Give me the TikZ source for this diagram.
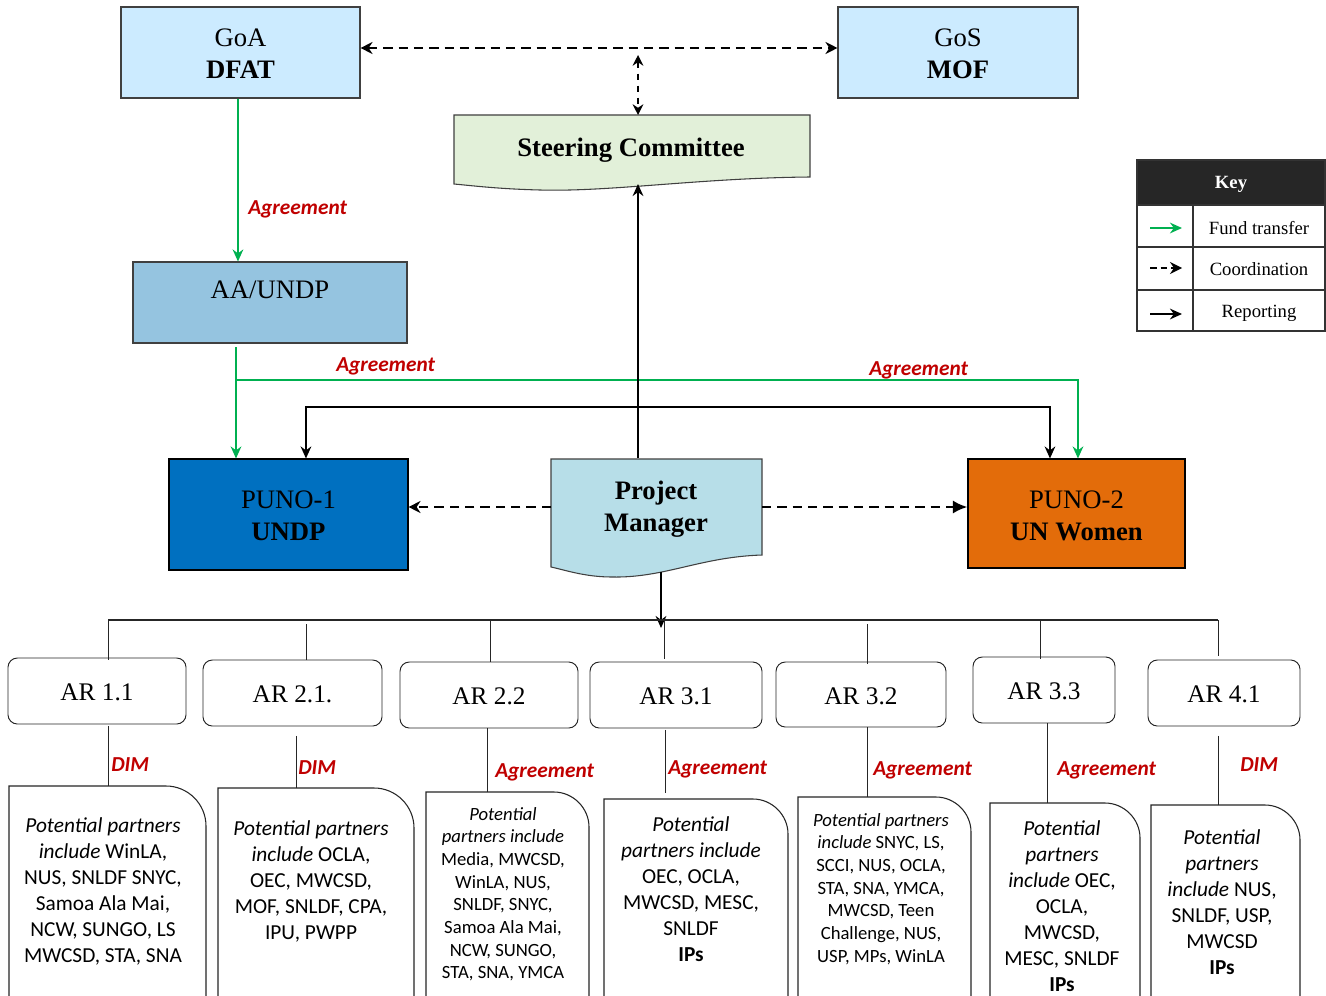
\documentclass[tikz,border=0pt]{standalone}
\usepackage{fontspec}
\setmainfont{Liberation Serif}
\newfontfamily\calfont{Carlito}
\usetikzlibrary{arrows.meta}
\definecolor{lblue}{HTML}{CCEBFF}
\definecolor{aablue}{HTML}{95C4E0}
\definecolor{undpblue}{HTML}{0070C0}
\definecolor{unworange}{HTML}{E36C0A}
\definecolor{pmblue}{HTML}{B7DEE8}
\definecolor{scgreen}{HTML}{E2F0D9}
\definecolor{fundgreen}{HTML}{00B050}
\definecolor{lblred}{HTML}{C00000}
\definecolor{keydark}{HTML}{262626}
\begin{document}
\begin{tikzpicture}[x=0.75pt,y=-0.75pt,
  box/.style={draw=black!75, line width=0.8pt, inner sep=0pt, align=center, font=\fontsize{20}{24}\selectfont},
  arbox/.style={draw=black!85, line width=0.7pt, rounded corners=7pt, inner sep=0pt, align=center, font=\fontsize{19}{22}\selectfont},
  txt/.style={inner sep=0pt, align=center, font=\fontsize{20}{24}\selectfont},
  lbl/.style={inner sep=0pt, anchor=west, text=lblred, font=\calfont\bfseries\itshape\fontsize{16}{19}\selectfont},
  partner/.style={inner sep=0pt, anchor=north, align=center, font=\calfont\fontsize{16}{19.5}\selectfont},
  partnersm/.style={inner sep=0pt, anchor=north, align=center, font=\calfont\fontsize{14}{17}\selectfont},
  pbox/.style={draw=black!85, line width=0.8pt},
  fund/.style={draw=fundgreen, line width=1.6pt, -{Stealth[length=9pt,width=8pt]}},
  coordline/.style={draw=black, line width=2pt, dash pattern=on 7pt off 4.5pt, -{Stealth[length=9pt,width=9pt]}},
  rep/.style={draw=black, line width=1.6pt, -{Stealth[length=9pt,width=8pt]}},
  thinline/.style={draw=black!85, line width=0.7pt},
  keytxt/.style={inner sep=0pt, font=\fontsize{14}{16}\selectfont}
]
\clip (0,0) rectangle (1326,995);
\fill[white] (0,0) rectangle (1326,995);

% ---- top boxes
\node[box, fill=lblue, minimum width=179.25pt, minimum height=68.25pt] (goa) at (240.5,52.5) {};
\node[txt] (goatxt) at (240.5,54) {GoA\\\textbf{DFAT}};
\node[box, fill=lblue, minimum width=180pt, minimum height=68.25pt] (gos) at (958,52.5) {};
\node[txt] (gostxt) at (958,54) {GoS\\\textbf{MOF}};

% steering committee (document shape)
\path[draw=black!75, line width=0.8pt, fill=scgreen] (454,115) -- (810,115) -- (810,177)
  .. controls (700,178) and (610,192) .. (540,190) .. controls (500,189) and (475,186) .. (454,184) -- cycle;
\node[txt, font=\bfseries\fontsize{20}{24}\selectfont] (sc) at (631,150) {Steering Committee};

% AA/UNDP
\node[box, fill=aablue, minimum width=205.5pt, minimum height=60.75pt] (aa) at (270,302.5) {};
\node[txt] (aatxt) at (270,290) {AA/UNDP};

% PUNOs
\node[box, draw=black, fill=undpblue, minimum width=179.25pt, minimum height=83.25pt] (puno1) at (288.5,514.5) {};
\node[txt] (p1txt) at (288.5,516) {PUNO-1\\\textbf{UNDP}};
\node[box, draw=black, fill=unworange, minimum width=162.75pt, minimum height=81.75pt] (puno2) at (1076.5,513.5) {};
\node[txt] (p2txt) at (1076.5,515.5) {PUNO-2\\\textbf{UN Women}};

% Project manager (document shape)
\path[draw=black!75, line width=0.8pt, fill=pmblue] (551,459) -- (762,459) -- (762,555)
  .. controls (700,557) and (665,578) .. (612,577) .. controls (585,577) and (565,570) .. (551,567) -- cycle;
\node[txt, font=\bfseries\fontsize{20}{24}\selectfont] (pm) at (656,509.5) {Project\\Manager};

% coordinates
\coordinate (toprow) at (638,48);
\coordinate (midtop) at (638,55);
\coordinate (scTop) at (638,115);
\coordinate (scBot) at (638,184);
\coordinate (pmTop) at (638,458);
\coordinate (pj) at (638,407);
\coordinate (gj) at (236,380);
\coordinate (aaOut) at (236,347);
\coordinate (pmL) at (551,507);
\coordinate (pmR) at (762,507);
\coordinate (pmBot) at (661,572);
\coordinate (busArrow) at (661,628);

% coordination arrows
\draw[coordline, {Stealth[length=9pt,width=9pt]}-{Stealth[length=9pt,width=9pt]}] (goa.east |- toprow) -- (gos.west |- toprow);
\draw[coordline, dash pattern=on 5pt off 4pt, {Stealth[length=8pt,width=8pt]}-{Stealth[length=8pt,width=8pt]}] (midtop) -- (scTop);
\draw[coordline] (pmL) -- (puno1.east |- pmL);
\draw[coordline, -{Latex[length=11pt,width=10pt]}] (pmR) -- (puno2.west |- pmR);

% fund transfer
\draw[fund] ([xshift=-1.9pt]goa.south) -- ([xshift=-1.9pt]goa.south |- aa.north);
\draw[fund] (aaOut) -- (aaOut |- puno1.north);
\draw[fund] (gj) -| ([xshift=1.1pt]puno2.north);

% reporting
\draw[rep] (pmTop) -- (scBot);
\draw[rep] (pj) -| ([xshift=13.1pt]puno1.north);
\draw[rep] (pj) -| ([xshift=-19.9pt]puno2.north);
\draw[rep] (pmBot) -- (busArrow);

% labels
\node[lbl] (l1) at (248,209) {Agreement};
\node[lbl] (l2) at (336,366) {Agreement};
\node[lbl] (l3) at (869,370) {Agreement};

% AR boxes
\node[arbox, minimum width=133.5pt, minimum height=49.5pt] (ar11) at (97,691) {};
\node[arbox, minimum width=134.25pt, minimum height=49.5pt] (ar21) at (292.5,693) {};
\node[arbox, minimum width=133.5pt, minimum height=49.5pt] (ar22) at (489,695) {};
\node[arbox, minimum width=129pt, minimum height=49.5pt] (ar31) at (676,695) {};
\node[arbox, minimum width=127.5pt, minimum height=48.75pt] (ar32) at (861,694.5) {};
\node[arbox, minimum width=106.5pt, minimum height=49.5pt] (ar33) at (1044,690) {};
\node[arbox, minimum width=114pt, minimum height=49.5pt] (ar41) at (1224,693) {};
\node[txt, font=\fontsize{19}{22}\selectfont] (ar11t) at (97,692.5) {AR 1.1};
\node[txt, font=\fontsize{19}{22}\selectfont] (ar21t) at (292.5,694.5) {AR 2.1.};
\node[txt, font=\fontsize{19}{22}\selectfont] (ar22t) at (489,696.5) {AR 2.2};
\node[txt, font=\fontsize{19}{22}\selectfont] (ar31t) at (676,696.5) {AR 3.1};
\node[txt, font=\fontsize{19}{22}\selectfont] (ar32t) at (861,696) {AR 3.2};
\node[txt, font=\fontsize{19}{22}\selectfont] (ar33t) at (1044,691.5) {AR 3.3};
\node[txt, font=\fontsize{19}{22}\selectfont] (ar41t) at (1224,694.5) {AR 4.1};

% bus
\coordinate (b1) at (108,620);
\coordinate (b2) at (306,620);
\coordinate (b3) at (490,620);
\coordinate (b4) at (664,620);
\coordinate (b5) at (867,620);
\coordinate (b6) at (1040,620);
\coordinate (b7) at (1218,620);
\draw[thinline, line width=1.1pt] (b1) -- (b7);
\draw[thinline] (b1) -- ([yshift=-2pt]b1 |- ar11.north);
\draw[thinline] ([yshift=-3pt]b2) -- (b2 |- ar21.north);
\draw[thinline] (b3) -- (b3 |- ar22.north);
\draw[thinline] (b4) -- ([yshift=2pt]b4 |- ar31.north);
\draw[thinline] ([yshift=-3pt]b5) -- ([yshift=-2pt]b5 |- ar32.north);
\draw[thinline] (b6) -- ([yshift=-2pt]b6 |- ar33.north);
\draw[thinline] (b7) -- ([yshift=3pt]b7 |- ar41.north);

% partner boxes
\path[pbox] (9,1000) -- (9,786) -- (166,786) .. controls (188,786) and (206,804) .. (206,826) -- (206,1000);
\coordinate (p1) at (108,786);
\path[pbox] (218,1000) -- (218,788) -- (374,788) .. controls (396,788) and (414,806) .. (414,828) -- (414,1000);
\coordinate (p2) at (296,788);
\path[pbox] (426,1000) -- (426,792) -- (554,792) .. controls (573,792) and (589,808) .. (589,827) -- (589,1000);
\coordinate (p3) at (487,792);
\path[pbox] (604,1000) -- (604,799) -- (753,799) .. controls (772,799) and (788,815) .. (788,834) -- (788,1000);
\coordinate (p4) at (665,793);
\path[pbox] (798,1000) -- (798,797) -- (936,797) .. controls (955,797) and (971,813) .. (971,832) -- (971,1000);
\coordinate (p5) at (867,797);
\path[pbox] (990,1000) -- (990,803) -- (1105,803) .. controls (1124,803) and (1140,819) .. (1140,838) -- (1140,1000);
\coordinate (p6) at (1047,803);
\path[pbox] (1151,1000) -- (1151,805) -- (1265,805) .. controls (1284,805) and (1300,821) .. (1300,840) -- (1300,1000);
\coordinate (p7) at (1218,805);

\draw[thinline] ([yshift=-1pt]ar11.south -| p1) -- (p1);
\draw[thinline] ([yshift=-7pt]ar21.south -| p2) -- (p2);
\draw[thinline] (ar22.south -| p3) -- (p3);
\draw[thinline] ([yshift=-1pt]ar31.south -| p4) -- (p4);
\draw[thinline] (ar32.south -| p5) -- (p5);
\draw[thinline] (ar33.south -| p6) -- (p6);
\draw[thinline] ([yshift=-7pt]ar41.south -| p7) -- (p7);

% lower labels
\node[lbl] (d1) at (111,765) {DIM};
\node[lbl] (d2) at (298,768) {DIM};
\node[lbl] (d3) at (495,772.5) {Agreement};
\node[lbl] (d4) at (668,769.5) {Agreement};
\node[lbl] (d5) at (873,770.5) {Agreement};
\node[lbl] (d6) at (1057,770.5) {Agreement};
\node[lbl] (d7) at (1240,765) {DIM};

% partner texts
\node[partner] (t1) at (103,817) {\textit{Potential partners}\\\textit{include} WinLA,\\NUS, SNLDF SNYC,\\Samoa Ala Mai,\\NCW, SUNGO, LS\\MWCSD, STA, SNA};
\node[partner] (t2) at (311,820) {\textit{Potential partners}\\\textit{include} OCLA,\\OEC, MWCSD,\\MOF, SNLDF, CPA,\\IPU, PWPP};
\node[partnersm] (t3) at (503,807) {\textit{Potential}\\\textit{partners include}\\Media, MWCSD,\\WinLA, NUS,\\SNLDF, SNYC,\\Samoa Ala Mai,\\NCW, SUNGO,\\STA, SNA, YMCA};
\node[partner] (t4) at (691,816) {\textit{Potential}\\\textit{partners include}\\OEC, OCLA,\\MWCSD, MESC,\\SNLDF\\\textbf{IPs}};
\node[partnersm] (t5) at (881,813) {\textit{Potential partners}\\\textit{include} SNYC, LS,\\SCCI, NUS, OCLA,\\STA, SNA, YMCA,\\MWCSD, Teen\\Challenge, NUS,\\USP, MPs, WinLA};
\node[partner] (t6) at (1062,820) {\textit{Potential}\\\textit{partners}\\\textit{include} OEC,\\OCLA,\\MWCSD,\\MESC, SNLDF\\\textbf{IPs}};
\node[partner] (t7) at (1222,829) {\textit{Potential}\\\textit{partners}\\\textit{include} NUS,\\SNLDF, USP,\\MWCSD\\\textbf{IPs}};

% key
\fill[keydark] (1137,160) rectangle (1325,205);
\draw[black!80, line width=0.8pt] (1137,160) rectangle (1325,331);
\draw[black!80, line width=0.8pt] (1137,205) -- (1325,205);
\draw[black!80, line width=0.8pt] (1137,247) -- (1325,247);
\draw[black!80, line width=0.8pt] (1137,290) -- (1325,290);
\draw[black!80, line width=0.8pt] (1193,205) -- (1193,331);
\node[keytxt, text=white, font=\bfseries\fontsize{14}{16}\selectfont] (key) at (1231,184.5) {Key};
\node[keytxt] (k1) at (1259,228) {Fund transfer};
\node[keytxt] (k2) at (1259,269) {Coordination};
\node[keytxt] (k3) at (1259,313) {Reporting};
\coordinate (ka1) at (1150,228);
\coordinate (kb1) at (1182,228);
\coordinate (ka2) at (1150,268);
\coordinate (kb2) at (1182,268);
\coordinate (ka3) at (1150,314);
\coordinate (kb3) at (1182,314);
\draw[fund] (ka1) -- (kb1);
\draw[coordline, dash pattern=on 5pt off 3pt] (ka2) -- (kb2);
\draw[rep] (ka3) -- (kb3);
\end{tikzpicture}
\end{document}
